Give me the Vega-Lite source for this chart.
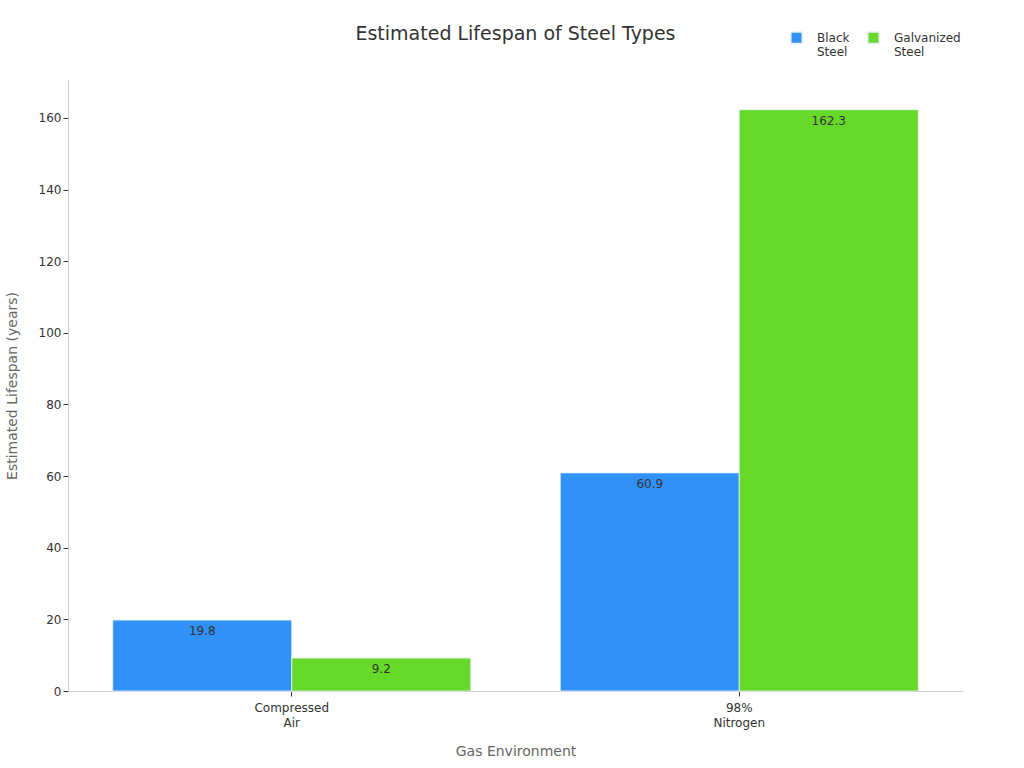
{
  "$schema": "https://vega.github.io/schema/vega-lite/v6.json",
  "width": 895,
  "height": 611,
  "autosize": {"type": "none"},
  "padding": {"left": 68, "top": 80, "right": 61, "bottom": 77},
  "background": "#ffffff",
  "title": {
    "text": "Estimated Lifespan of Steel Types",
    "fontSize": 19,
    "fontWeight": "normal",
    "color": "#333333",
    "font": "DejaVu Sans",
    "anchor": "middle",
    "offset": -13
  },
  "data": {
    "values": [
      {"env": "Compressed Air", "steel": "Black Steel", "years": 19.8},
      {"env": "Compressed Air", "steel": "Galvanized Steel", "years": 9.2},
      {"env": "98% Nitrogen", "steel": "Black Steel", "years": 60.9},
      {"env": "98% Nitrogen", "steel": "Galvanized Steel", "years": 162.3}
    ]
  },
  "encoding": {
    "x": {
      "field": "env",
      "type": "nominal",
      "sort": ["Compressed Air", "98% Nitrogen"],
      "title": "Gas Environment",
      "scale": {"paddingInner": 0.2, "paddingOuter": 0.1},
      "axis": {
        "labelAngle": 0,
        "labelExpr": "split(datum.label, ' ')",
        "labelFontSize": 12,
        "labelLineHeight": 15,
        "labelPadding": 6,
        "labelColor": "#333333",
        "titleFontSize": 14,
        "titleFontWeight": "normal",
        "titleColor": "#666666",
        "titlePadding": 16,
        "domainColor": "#cccccc",
        "tickColor": "#333333",
        "grid": false
      }
    },
    "xOffset": {"field": "steel", "type": "nominal", "scale": {"paddingInner": 0}},
    "y": {
      "field": "years",
      "type": "quantitative",
      "title": "Estimated Lifespan (years)",
      "scale": {"domain": [0, 170.6], "nice": false},
      "axis": {
        "values": [0, 20, 40, 60, 80, 100, 120, 140, 160],
        "grid": false,
        "labelFontSize": 12,
        "labelColor": "#333333",
        "titleFontSize": 14,
        "titleFontWeight": "normal",
        "titleColor": "#666666",
        "titlePadding": 19,
        "domainColor": "#cccccc",
        "tickColor": "#333333"
      }
    }
  },
  "layer": [
    {
      "mark": {"type": "bar", "strokeWidth": 1, "stroke": "#e8f0ff", "strokeOpacity": 0.8},
      "encoding": {
        "color": {
          "field": "steel",
          "type": "nominal",
          "title": null,
          "scale": {"domain": ["Black Steel", "Galvanized Steel"], "range": ["#3091f7", "#67d928"]},
          "legend": {
            "orient": "none",
            "legendX": 722,
            "legendY": -49,
            "direction": "horizontal",
            "symbolType": "square",
            "symbolSize": 130,
            "labelOffset": 14,
            "labelExpr": "split(datum.label, ' ')",
            "labelFontSize": 12,
            "labelColor": "#333333",
            "columnPadding": 14
          }
        }
      }
    },
    {
      "mark": {"type": "text", "baseline": "top", "dy": 6, "fontSize": 12, "color": "#333333"},
      "encoding": {
        "text": {"field": "years", "type": "quantitative", "format": ".1f"}
      }
    }
  ],
  "config": {
    "view": {"stroke": null},
    "font": "DejaVu Sans"
  }
}
